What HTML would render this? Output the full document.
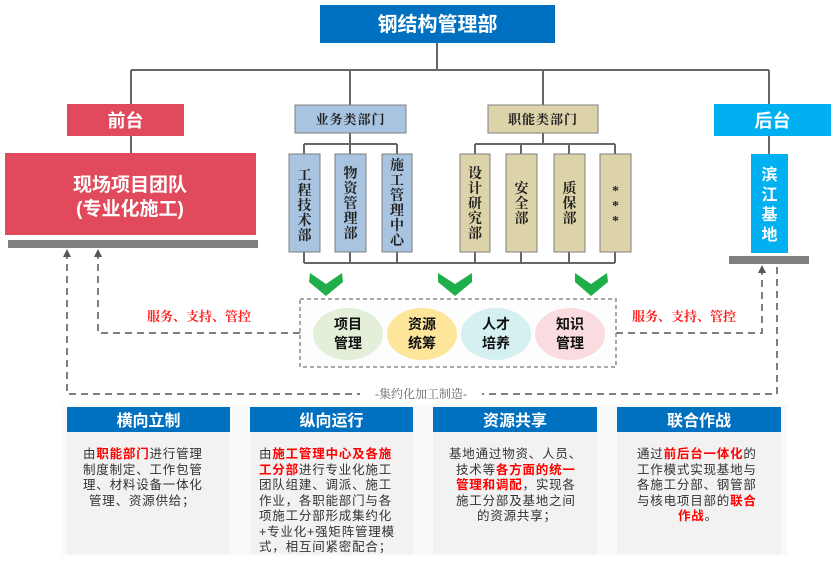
<!DOCTYPE html>
<html><head><meta charset="utf-8"><style>
html,body{margin:0;padding:0;background:#fff;}
svg{display:block;}
.s{font-family:"Liberation Sans","Noto Sans CJK SC",sans-serif;}
.f{font-family:"Liberation Serif","Noto Serif CJK SC",serif;}
</style></head><body>
<svg width="840" height="561" viewBox="0 0 840 561" xmlns="http://www.w3.org/2000/svg">
<rect x="320" y="5" width="235" height="38" fill="#0070c0"/>
<text x="437.5" y="31" class="s" font-size="20" font-weight="bold" fill="#fff" text-anchor="middle">钢结构管理部</text>
<g stroke="#666" stroke-width="2" fill="none">
<path d="M437 43V70M131 70H769M131 70V104M350 70V105M543 70V105M769 70V104M131 136V153M769 136V154"/>
<path d="M350 133V144M304 144H397M304 144V154M350 144V154M397 144V154"/>
<path d="M543 133V144M475 144H615M475 144V154M521 144V154M569 144V154M615 144V154"/>
<path d="M304 252V263M350 252V263M397 252V263M475 252V263M521 252V263M569 252V263M615 252V263M304 263H615"/>
</g>
<rect x="67" y="104" width="117" height="32" fill="#e04a5c"/>
<text x="125.5" y="127" class="s" font-size="18" font-weight="bold" fill="#fff" text-anchor="middle">前台</text>
<rect x="5" y="153" width="251" height="82" fill="#e04a5c"/>
<text x="130" y="191" class="s" font-size="19" font-weight="bold" fill="#fff" text-anchor="middle">现场项目团队</text>
<text x="130" y="215" class="s" font-size="19" font-weight="bold" fill="#fff" text-anchor="middle">(专业化施工)</text>
<rect x="8" y="240" width="250" height="8" fill="#7f7f7f"/>
<rect x="714" y="104" width="117" height="32" fill="#00b0f0"/>
<text x="772.5" y="127" class="s" font-size="18" font-weight="bold" fill="#fff" text-anchor="middle">后台</text>
<rect x="751" y="154" width="37" height="99" fill="#00b0f0"/>
<text class="s" font-size="16" font-weight="bold" fill="#fff" text-anchor="middle"><tspan x="769.5" y="180">滨</tspan><tspan x="769.5" y="200">江</tspan><tspan x="769.5" y="220">基</tspan><tspan x="769.5" y="240">地</tspan></text>
<rect x="729" y="256" width="80" height="8" fill="#7f7f7f"/>
<rect x="295" y="105" width="111" height="28" fill="#a9c4e0" stroke="#7f7f7f"/>
<text x="350.5" y="124" class="f" font-size="13" font-weight="bold" fill="#222" text-anchor="middle" letter-spacing="1">业务类部门</text>
<rect x="488" y="105" width="110" height="28" fill="#ddd3a8" stroke="#7f7f7f"/>
<text x="543" y="124" class="f" font-size="13" font-weight="bold" fill="#222" text-anchor="middle" letter-spacing="1">职能类部门</text>
<g stroke="#7f7f7f" stroke-width="1">
<rect x="289" y="154" width="31" height="98" fill="#a9c4e0"/>
<rect x="335" y="154" width="31" height="98" fill="#a9c4e0"/>
<rect x="382" y="154" width="30" height="98" fill="#a9c4e0"/>
<rect x="460" y="154" width="30" height="98" fill="#ddd3a8"/>
<rect x="506" y="154" width="31" height="98" fill="#ddd3a8"/>
<rect x="554" y="154" width="31" height="98" fill="#ddd3a8"/>
<rect x="600" y="154" width="31" height="98" fill="#ddd3a8"/>
</g>
<g class="f" font-size="14" font-weight="bold" fill="#222" text-anchor="middle">
<text><tspan x="304.5" y="180">工</tspan><tspan x="304.5" y="195">程</tspan><tspan x="304.5" y="210">技</tspan><tspan x="304.5" y="225">术</tspan><tspan x="304.5" y="240">部</tspan></text>
<text><tspan x="350.5" y="178">物</tspan><tspan x="350.5" y="193">资</tspan><tspan x="350.5" y="208">管</tspan><tspan x="350.5" y="223">理</tspan><tspan x="350.5" y="238">部</tspan></text>
<text><tspan x="397" y="170">施</tspan><tspan x="397" y="185">工</tspan><tspan x="397" y="200">管</tspan><tspan x="397" y="215">理</tspan><tspan x="397" y="230">中</tspan><tspan x="397" y="245">心</tspan></text>
<text><tspan x="475" y="178">设</tspan><tspan x="475" y="193">计</tspan><tspan x="475" y="208">研</tspan><tspan x="475" y="223">究</tspan><tspan x="475" y="238">部</tspan></text>
<text><tspan x="521.5" y="193">安</tspan><tspan x="521.5" y="208">全</tspan><tspan x="521.5" y="223">部</tspan></text>
<text><tspan x="569.5" y="193">质</tspan><tspan x="569.5" y="208">保</tspan><tspan x="569.5" y="223">部</tspan></text>
<text><tspan x="615.5" y="195">*</tspan><tspan x="615.5" y="210">*</tspan><tspan x="615.5" y="225">*</tspan></text>
</g>
<g fill="#1fae4a">
<path d="M310 273L326 284L342 273L343 282L326 296L309 282Z"/>
<path d="M438 273L455 284L472 273L472 282L455 296L438 282Z"/>
<path d="M575 273L591 284L607 273L608 282L591 296L575 282Z"/>
</g>
<g stroke="#7f7f7f" stroke-width="2" fill="none" stroke-dasharray="7,5">
<path d="M98 252V333H300M616 333H762V268M67 252V394H777V264"/>
</g>
<rect x="300" y="299" width="316" height="68" fill="#fdfdfd" stroke="#8c8c8c" stroke-width="1.5" stroke-dasharray="4,3"/>
<path d="M94 257L98 249L102 257Z M63 257L67 249L71 257Z M758 273L762 265L766 273Z" fill="#555"/>
<rect x="360" y="386" width="122" height="14" fill="#fff"/>
<text x="421" y="398" class="f" font-size="12" fill="#666" text-anchor="middle">-集约化加工制造-</text>
<text x="199" y="321" class="f" font-size="13" font-weight="bold" fill="#ff2020" text-anchor="middle">服务、支持、管控</text>
<text x="684" y="321" class="f" font-size="13" font-weight="bold" fill="#ff2020" text-anchor="middle">服务、支持、管控</text>
<ellipse cx="348" cy="334" rx="35" ry="26" fill="#e3efd9"/>
<ellipse cx="422" cy="334" rx="35" ry="26" fill="#fde59a"/>
<ellipse cx="496" cy="334" rx="35" ry="26" fill="#d4f0f0"/>
<ellipse cx="570" cy="334" rx="35" ry="26" fill="#f9dbe0"/>
<g class="s" font-size="14" font-weight="bold" fill="#111" text-anchor="middle">
<text x="348" y="329">项目</text><text x="348" y="348">管理</text>
<text x="422" y="329">资源</text><text x="422" y="348">统筹</text>
<text x="496" y="329">人才</text><text x="496" y="348">培养</text>
<text x="570" y="329">知识</text><text x="570" y="348">管理</text>
</g>
<rect x="62" y="404" width="725" height="152" fill="#fafafa"/>
<g fill="#f2f2f2"><rect x="67" y="432" width="163" height="122"/><rect x="250" y="432" width="163" height="122"/><rect x="433" y="432" width="164" height="122"/><rect x="617" y="432" width="164" height="122"/></g>
<g fill="#0070c0"><rect x="67" y="407" width="163" height="25"/><rect x="250" y="407" width="163" height="25"/><rect x="433" y="407" width="164" height="25"/><rect x="617" y="407" width="164" height="25"/></g>
<g class="s" font-size="16" font-weight="bold" fill="#fff" text-anchor="middle">
<text x="148.5" y="426">横向立制</text><text x="331.5" y="426">纵向运行</text><text x="515" y="426">资源共享</text><text x="699" y="426">联合作战</text>
</g>
<g class="s" font-size="12.5" fill="#333" letter-spacing="0.8">
<text x="83" y="458">由<tspan fill="#f00" font-weight="bold">职能部门</tspan>进行管理</text>
<text x="83" y="474">制度制定、工作包管</text>
<text x="83" y="489">理、材料设备一体化</text>
<text x="89" y="505">管理、资源供给；</text>
<text x="259" y="458">由<tspan fill="#f00" font-weight="bold">施工管理中心及各施</tspan></text>
<text x="259" y="474"><tspan fill="#f00" font-weight="bold">工分部</tspan>进行专业化施工</text>
<text x="259" y="489">团队组建、调派、施工</text>
<text x="259" y="505">作业，各职能部门与各</text>
<text x="259" y="520">项施工分部形成集约化</text>
<text x="259" y="536">+专业化+强矩阵管理模</text>
<text x="259" y="551">式，相互间紧密配合；</text>
<text x="449" y="458">基地通过物资、人员、</text>
<text x="456" y="474">技术等<tspan fill="#f00" font-weight="bold">各方面的统一</tspan></text>
<text x="456" y="489"><tspan fill="#f00" font-weight="bold">管理和调配</tspan>，实现各</text>
<text x="456" y="505">施工分部及基地之间</text>
<text x="477" y="520">的资源共享；</text>
<text x="637" y="458">通过<tspan fill="#f00" font-weight="bold">前后台一体化</tspan>的</text>
<text x="637" y="474">工作模式实现基地与</text>
<text x="637" y="489">各施工分部、钢管部</text>
<text x="637" y="505">与核电项目部的<tspan fill="#f00" font-weight="bold">联合</tspan></text>
<text x="678" y="520"><tspan fill="#f00" font-weight="bold">作战</tspan>。</text>
</g>
</svg>
</body></html>
